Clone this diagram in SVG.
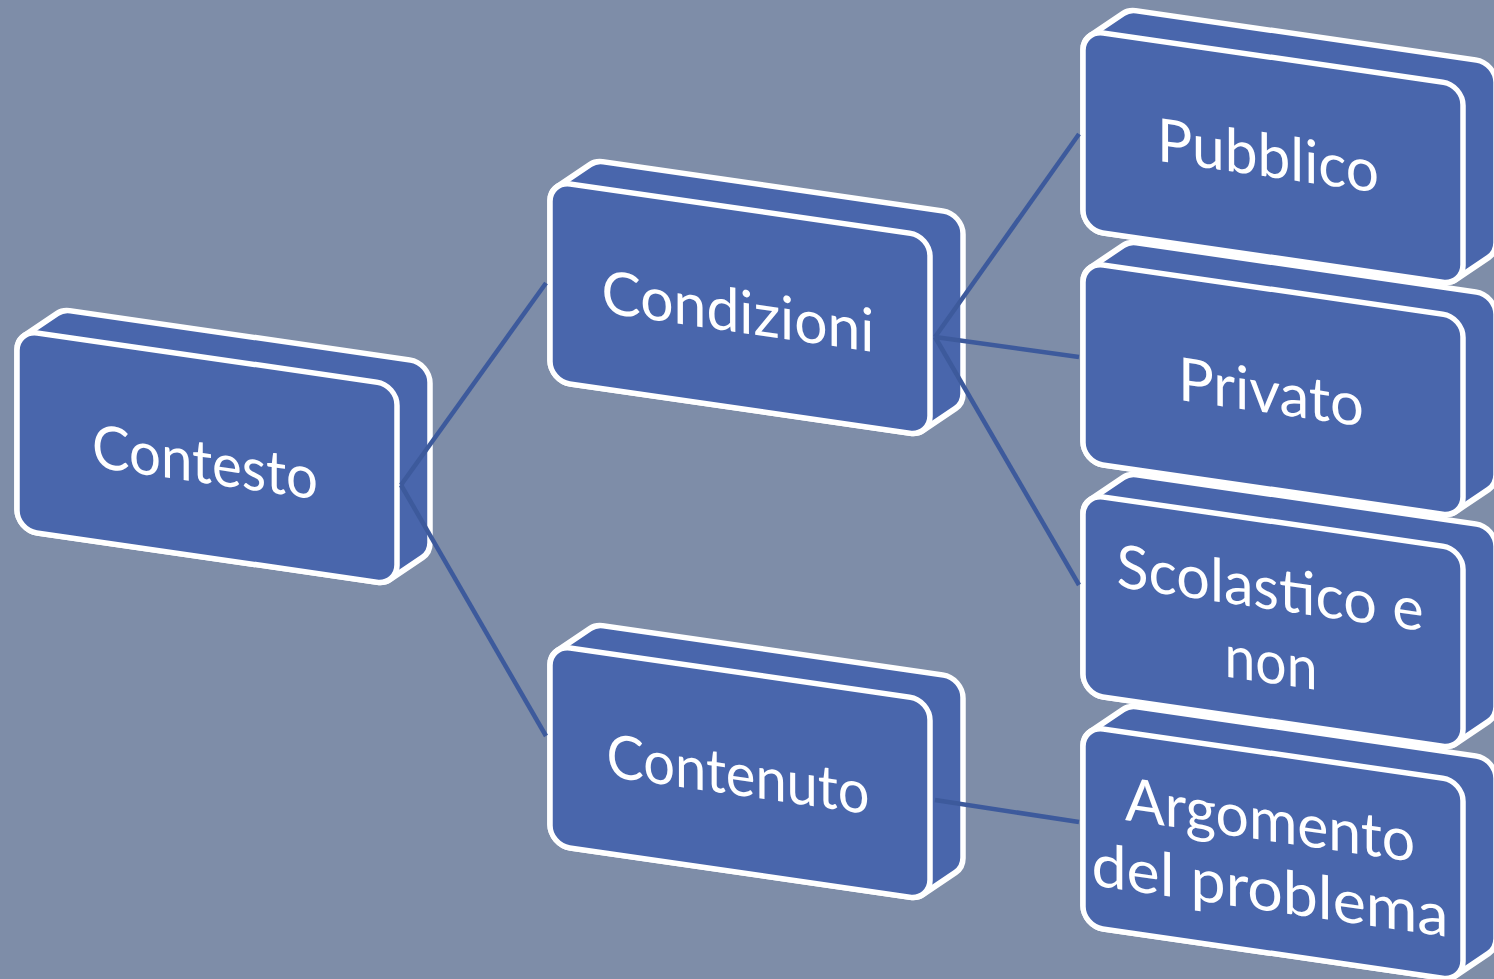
<svg xmlns="http://www.w3.org/2000/svg" width="1494" height="979" viewBox="0 0 1494 979">
<defs>
<style>
.bg{fill:#7E8DA8}
.box{fill:#4966AC;stroke:#FFFFFF;stroke-width:5.5;stroke-linejoin:round}
.lbl{fill:#FFFFFF;font-family:Lato,"Liberation Sans",sans-serif;font-size:60px;text-anchor:middle}
.conn{stroke:#3D5A9C;stroke-width:4.5;fill:none;stroke-linecap:butt}
</style>
<path id="solid" d="M7.34,4.52 A20,20 0 0 0 0,20 L0,180 A20,20 0 0 0 20,200 L360,200 A20,20 0 0 0 372.66,195.48 L405.66,168.48 A20,20 0 0 0 413,153 L413,-7 A20,20 0 0 0 393,-27 L53,-27 A20,20 0 0 0 40.34,-22.48 Z"/>
</defs>
<rect class="bg" x="0" y="0" width="1494" height="979"/>

<g id="contesto" transform="matrix(1,0.145,0,1,17,330)">
<use href="#solid" class="box"/>
<rect class="box" x="0" y="0" width="380" height="200" rx="20" ry="20"/>
<text class="lbl" x="188" y="126" textLength="226" lengthAdjust="spacingAndGlyphs">Contesto</text>
</g>

<g id="condizioni" transform="matrix(1,0.145,0,1,550,181)">
<use href="#solid" class="box"/>
<rect class="box" x="0" y="0" width="380" height="200" rx="20" ry="20"/>
<text class="lbl" x="188" y="124" textLength="273" lengthAdjust="spacingAndGlyphs">Condizioni</text>
</g>

<g id="contenuto" transform="matrix(1,0.145,0,1,550,645)">
<use href="#solid" class="box"/>
<rect class="box" x="0" y="0" width="380" height="200" rx="20" ry="20"/>
<text class="lbl" x="188" y="123" textLength="263" lengthAdjust="spacingAndGlyphs">Contenuto</text>
</g>

<g id="argomento" transform="matrix(1,0.145,0,1,1083,726)">
<use href="#solid" class="box"/>
<rect class="box" x="0" y="0" width="380" height="200" rx="20" ry="20"/>
<text class="lbl" x="187" y="88" textLength="290" lengthAdjust="spacingAndGlyphs">Argomento</text>
<text class="lbl" x="187" y="158" textLength="357" lengthAdjust="spacingAndGlyphs">del problema</text>
</g>

<g id="scolastico" transform="matrix(1,0.145,0,1,1083,494)">
<use href="#solid" class="box"/>
<rect class="box" x="0" y="0" width="380" height="200" rx="20" ry="20"/>
<text class="lbl" x="187" y="88" textLength="307" lengthAdjust="spacingAndGlyphs">Scolastico e</text>
<text class="lbl" x="188" y="162" textLength="93" lengthAdjust="spacingAndGlyphs">non</text>
</g>

<g id="privato" transform="matrix(1,0.145,0,1,1083,262)">
<use href="#solid" class="box"/>
<rect class="box" x="0" y="0" width="380" height="200" rx="20" ry="20"/>
<text class="lbl" x="188" y="124" textLength="186" lengthAdjust="spacingAndGlyphs">Privato</text>
</g>

<g id="pubblico" transform="matrix(1,0.145,0,1,1083,30)">
<use href="#solid" class="box"/>
<rect class="box" x="0" y="0" width="380" height="200" rx="20" ry="20"/>
<text class="lbl" x="185" y="120" textLength="222" lengthAdjust="spacingAndGlyphs">Pubblico</text>
</g>

<g id="connectors">
<line class="conn" x1="401" y1="485" x2="546" y2="283"/>
<line class="conn" x1="401" y1="485" x2="546" y2="736"/>
<line class="conn" x1="935" y1="337" x2="1079" y2="134"/>
<line class="conn" x1="935" y1="337" x2="1079" y2="357"/>
<line class="conn" x1="935" y1="337" x2="1079" y2="585"/>
<line class="conn" x1="935" y1="800" x2="1079" y2="822"/>
</g>
</svg>
